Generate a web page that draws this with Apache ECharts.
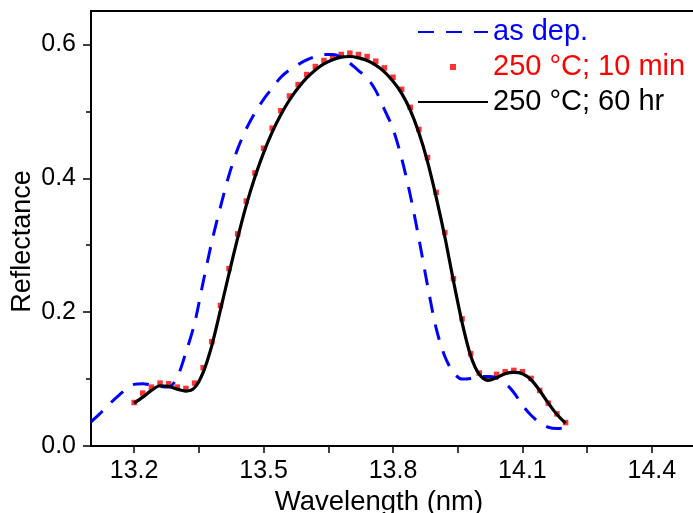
<!DOCTYPE html>
<html>
<head>
<meta charset="utf-8">
<script src="https://cdn.jsdelivr.net/npm/echarts@6/dist/echarts.min.js"></script>
<style>html,body{margin:0;padding:0;background:#fff;}#c{width:693px;height:513px;}</style>
</head>
<body>
<div id="c"></div>
<script>
// Wavelength grid (nm)
const wlAsDep = [13.10,13.12,13.14,13.16,13.18,13.20,13.22,13.24,13.26,13.28,13.30,13.32,13.34,13.36,13.38,13.40,13.42,13.44,13.46,13.48,13.50,13.52,13.54,13.56,13.58,13.60,13.62,13.64,13.66,13.68,13.70,13.72,13.74,13.76,13.78,13.80,13.82,13.84,13.86,13.88,13.90,13.92,13.94,13.96,13.98,14.00,14.02,14.04,14.06,14.08,14.10,14.12,14.14,14.16,14.18,14.20];
const rAsDep = [0.036,0.048,0.061,0.073,0.084,0.092,0.093,0.091,0.089,0.088,0.103,0.140,0.183,0.245,0.305,0.357,0.405,0.444,0.474,0.498,0.518,0.535,0.551,0.562,0.570,0.577,0.582,0.585,0.585,0.581,0.572,0.561,0.550,0.531,0.503,0.474,0.430,0.375,0.310,0.240,0.176,0.134,0.110,0.100,0.101,0.104,0.104,0.102,0.094,0.080,0.061,0.046,0.035,0.028,0.026,0.027];

const wlAnneal = [13.20,13.22,13.24,13.26,13.28,13.30,13.32,13.34,13.36,13.38,13.40,13.42,13.44,13.46,13.48,13.50,13.52,13.54,13.56,13.58,13.60,13.62,13.64,13.66,13.68,13.70,13.72,13.74,13.76,13.78,13.80,13.82,13.84,13.86,13.88,13.90,13.92,13.94,13.96,13.98,14.00,14.02,14.04,14.06,14.08,14.10,14.12,14.14,14.16,14.18,14.20];
const r10min = [0.065,0.079,0.088,0.094,0.093,0.088,0.086,0.094,0.117,0.156,0.210,0.265,0.317,0.366,0.408,0.445,0.475,0.501,0.523,0.540,0.555,0.567,0.576,0.582,0.585,0.587,0.585,0.582,0.575,0.565,0.551,0.533,0.506,0.473,0.431,0.379,0.319,0.250,0.190,0.138,0.109,0.102,0.107,0.111,0.113,0.111,0.101,0.083,0.064,0.048,0.035];
const r60hr = [0.064,0.073,0.083,0.090,0.089,0.085,0.082,0.087,0.110,0.150,0.203,0.258,0.311,0.360,0.402,0.438,0.469,0.495,0.517,0.535,0.550,0.562,0.571,0.577,0.581,0.582,0.580,0.576,0.569,0.559,0.545,0.527,0.502,0.468,0.425,0.372,0.313,0.247,0.185,0.135,0.107,0.098,0.102,0.108,0.110,0.108,0.099,0.083,0.064,0.047,0.034];

const seriesNames = ['as dep.', '250 °C; 10 min', '250 °C; 60 hr'];
const xTickValues = [13.2,13.35,13.5,13.65,13.8,13.95,14.1,14.25,14.4];
const xLabelValues = [13.2,13.5,13.8,14.1,14.4];
const yLabelValues = [0,0.2,0.4,0.6];
const yMinorValues = [0.1,0.3,0.5];

const FONT = '"Liberation Sans", Arial, sans-serif';
const pair = (xs, ys) => xs.map((x, i) => [x, ys[i]]);

const chart = echarts.init(document.getElementById('c'), null, {renderer: 'canvas'});
chart.setOption({
  animation: false,
  backgroundColor: '#fff',
  textStyle: {fontFamily: FONT},
  grid: {left: 91, top: 11, right: -2, bottom: 67, show: true, borderColor: '#000', borderWidth: 2,
         backgroundColor: 'transparent', containLabel: false, outerBoundsMode: 'none'},
  legend: {
    orient: 'vertical', left: 412, top: 12, itemWidth: 70, itemHeight: 6, itemGap: 5,
    symbolKeepAspect: true,
    textStyle: {fontSize: 29, fontFamily: FONT, lineHeight: 30},
    data: [
      {name: seriesNames[0], itemStyle: {opacity: 0}, textStyle: {color: '#0000ff'}},
      {name: seriesNames[1], icon: 'path://M0,0L10,0L10,10L0,10Z', textStyle: {color: '#ff0000'}},
      {name: seriesNames[2], itemStyle: {opacity: 0}, textStyle: {color: '#000000'}}
    ]
  },
  xAxis: {
    type: 'value', min: 13.1, max: 14.5,
    name: 'Wavelength (nm)', nameLocation: 'middle', nameGap: 34,
    nameTextStyle: {fontSize: 27.5, color: '#000', fontFamily: FONT, padding: [0, 28, 0, 0]},
    axisLine: {show: true, lineStyle: {color: '#000', width: 2}},
    axisTick: {show: true, inside: false, length: 7, lineStyle: {color: '#000', width: 1.5}, customValues: xTickValues},
    axisLabel: {show: true, margin: 13, fontSize: 25, color: '#000', fontFamily: FONT, customValues: xLabelValues, formatter: v => v.toFixed(1)},
    splitLine: {show: false}
  },
  yAxis: [{
    type: 'value', min: 0, max: 0.65,
    name: 'Reflectance', nameLocation: 'middle', nameGap: 55, nameRotate: 90, nameMoveOverlap: false,
    nameTextStyle: {fontSize: 27, color: '#000', fontFamily: FONT, padding: [0, 26, 0, 0]},
    axisLine: {show: true, lineStyle: {color: '#000', width: 2}},
    axisTick: {show: true, inside: false, length: 8, lineStyle: {color: '#000', width: 1.5}, customValues: yLabelValues},
    axisLabel: {show: true, margin: 15, fontSize: 25, color: '#000', fontFamily: FONT, customValues: yLabelValues, formatter: v => v.toFixed(1)},
    splitLine: {show: false}
  }, {
    type: 'value', min: 0, max: 0.65, position: 'left', offset: 0,
    axisLine: {show: false},
    axisTick: {show: true, inside: false, length: 5, lineStyle: {color: '#000', width: 1.5}, customValues: yMinorValues},
    axisLabel: {show: false},
    splitLine: {show: false}
  }],
  series: [
    {name: seriesNames[0], type: 'line', data: pair(wlAsDep, rAsDep), symbol: 'none', smooth: 0.3,
     lineStyle: {color: '#0000ff', width: 3, type: [16, 12]}, itemStyle: {color: '#0000ff'}},
    {name: seriesNames[1], type: 'scatter', data: pair(wlAnneal, r10min), symbol: 'rect', symbolSize: 5.5,
     itemStyle: {color: '#ff0000'}},
    {name: seriesNames[2], type: 'line', data: pair(wlAnneal, r60hr), symbol: 'none', smooth: 0.3,
     lineStyle: {color: '#000000', width: 3.2}, itemStyle: {color: '#000000'}}
  ]
});
</script>
</body>
</html>
